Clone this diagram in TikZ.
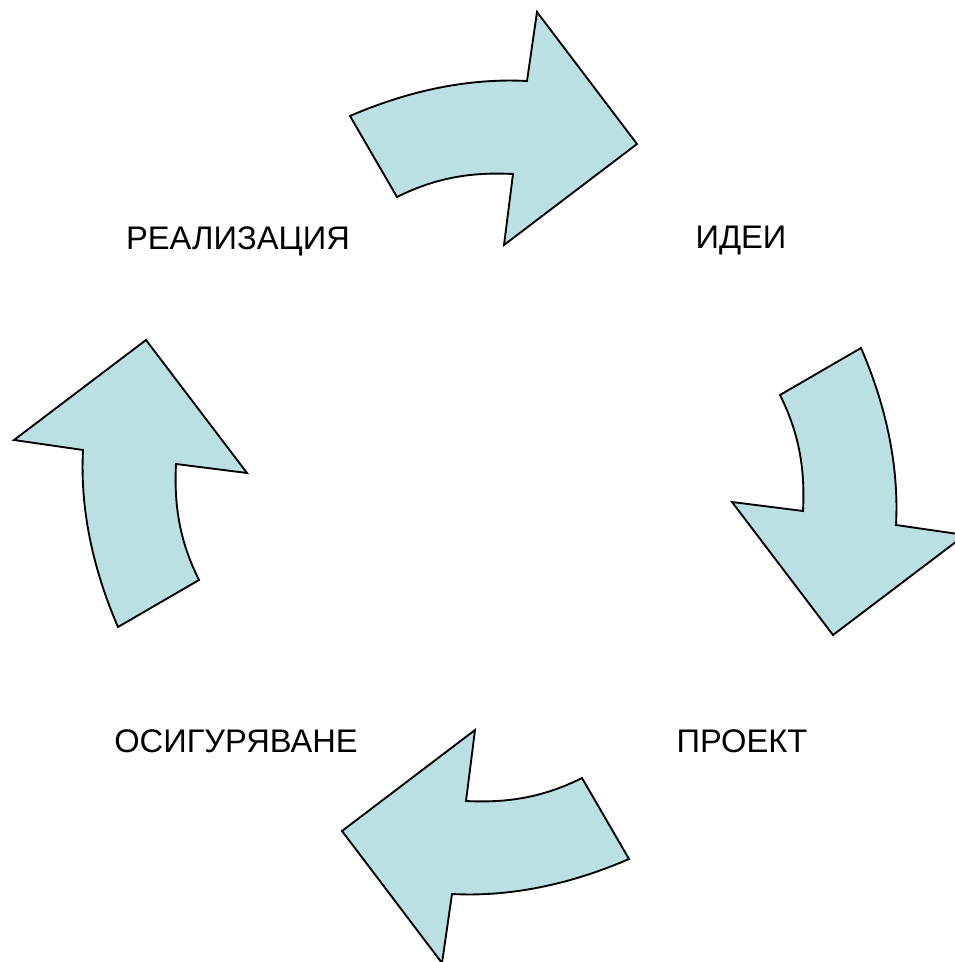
\documentclass[tikz,border=0pt]{standalone}
\usepackage{fontspec}
\setmainfont{Liberation Sans}
\definecolor{arrowfill}{RGB}{187,224,227}

\begin{document}
\begin{tikzpicture}[x=0.75pt,y=0.75pt,yscale=-1,xscale=1,
  cyclearrow/.style={draw=black, fill=arrowfill, line width=1.4pt, line join=miter},
  cyclelabel/.style={anchor=base, inner sep=0.75pt, font=\fontsize{24.5}{29}\selectfont}]
%set diagram to 954 x 962
\useasboundingbox (0,0) rectangle (954,962);

%Shape: Curved Arrow top
\draw [cyclearrow] (350,116) .. controls (410,90) and (470,78) .. (527,81) -- (537,12) -- (637,144) -- (504,245) -- (513,174) .. controls (473,172) and (437,177) .. (397,197) -- cycle ;
%Shape: Curved Arrow right
\draw [cyclearrow] (861,348) .. controls (887,408) and (899,468) .. (896,525) -- (965,535) -- (833,635) -- (732,502) -- (803,511) .. controls (805,471) and (800,435) .. (780,395) -- cycle ;
%Shape: Curved Arrow bottom
\draw [cyclearrow] (629,859) .. controls (569,885) and (509,897) .. (452,894) -- (442,963) -- (342,831) -- (475,730) -- (466,801) .. controls (506,803) and (542,798) .. (582,778) -- cycle ;
%Shape: Curved Arrow left
\draw [cyclearrow] (118,627) .. controls (92,567) and (80,507) .. (83,450) -- (14,440) -- (146,340) -- (247,473) -- (176,464) .. controls (174,504) and (179,540) .. (199,580) -- cycle ;

% Text Node
\node [cyclelabel] (ideas) at (741,249) {ИДЕИ};
% Text Node
\node [cyclelabel] (project) at (742,752) {ПРОЕКТ};
% Text Node
\node [cyclelabel] (funding) at (236,752) {ОСИГУРЯВАНЕ};
% Text Node
\node [cyclelabel] (realize) at (238,250) {РЕАЛИЗАЦИЯ};

\end{tikzpicture}
\end{document}
